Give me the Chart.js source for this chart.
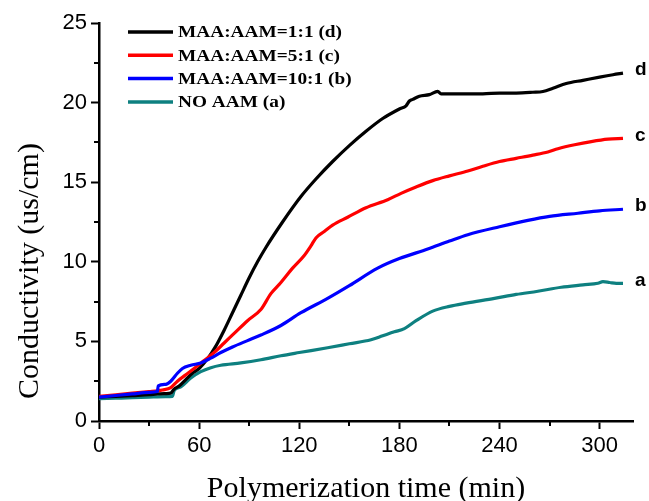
<!DOCTYPE html>
<html>
<head>
<meta charset="utf-8">
<script src="https://cdn.jsdelivr.net/npm/chart.js@4.4.1/dist/chart.umd.min.js"></script>
<style>
  html, body { margin: 0; padding: 0; background: #fff; }
  #c { display: block; }
</style>
</head>
<body>
<canvas id="c" width="649" height="501"></canvas>
<script>
// ---- data ----
const seriesNames = ["MAA:AAM=1:1 (d)", "MAA:AAM=5:1 (c)", "MAA:AAM=10:1 (b)", "NO AAM (a)"];
const endLabels = ["d", "c", "b", "a"];

const timeD = [0,10,20,30,35,40,43,45,48,52,56,60,65,70,75,80,85,90,95,100,110,121,130,140,150,160,170,180,184,186,188,192,198,203,205,210,220,230,240,250,260,266,272,280,290,300,308,314];
const condD = [1.5,1.55,1.6,1.65,1.7,1.72,1.75,2.0,2.2,2.6,3.0,3.3,3.9,4.7,5.7,6.8,7.9,9.0,10.0,10.9,12.5,14.1,15.2,16.3,17.3,18.2,19.0,19.6,19.8,20.1,20.2,20.4,20.5,20.7,20.55,20.55,20.55,20.55,20.6,20.6,20.65,20.7,20.9,21.2,21.4,21.6,21.75,21.85];

const timeC = [0,10,20,30,35,38,43,47,52,57,63,69,75,81,89,97,103,109,116,123,127,130,135,140,149,160,173,181,190,200,210,221,230,240,250,260,269,275,285,295,305,314];
const condC = [1.55,1.65,1.75,1.85,1.9,1.95,2.1,2.5,2.9,3.3,3.8,4.3,4.9,5.5,6.3,7.0,8.0,8.7,9.6,10.4,11.0,11.5,11.9,12.3,12.8,13.4,13.9,14.3,14.7,15.1,15.4,15.7,16.0,16.3,16.5,16.7,16.9,17.1,17.35,17.55,17.7,17.75];

const timeB = [0,10,20,30,35,35.5,40,43,47,50,55,61,67,73,80,89,97,109,121,137,150,167,180,197,210,221,240,257,270,287,300,314];
const condB = [1.5,1.6,1.7,1.8,1.85,2.2,2.3,2.5,3.0,3.3,3.5,3.65,3.95,4.3,4.65,5.05,5.4,6.0,6.8,7.7,8.5,9.6,10.2,10.8,11.3,11.7,12.2,12.6,12.85,13.05,13.2,13.3];

const timeA = [0,10,20,30,40,44,45,49,55,61,67,73,85,97,109,120,137,150,163,170,177,183,190,200,210,220,237,250,263,277,290,299,302,306,310,314];
const condA = [1.4,1.43,1.46,1.5,1.53,1.55,1.9,2.15,2.7,3.1,3.35,3.5,3.65,3.85,4.1,4.3,4.6,4.85,5.1,5.35,5.6,5.8,6.3,6.9,7.2,7.4,7.7,7.95,8.15,8.4,8.55,8.65,8.75,8.7,8.65,8.65];

const xTicks = [0, 60, 120, 180, 240, 300];
const xMinorTicks = [30, 90, 150, 210, 270];
const yTicks = [0, 5, 10, 15, 20, 25];
const yMinorTicks = [2.5, 7.5, 12.5, 17.5, 22.5];

const xTitle = "Polymerization time (min)";
const yTitle = "Conductivity (us/cm)";

// ---- styles ----
const colors = ["#000000", "#ff0000", "#0000ff", "#0e8080"];
const drawOrder = [2, 1, 0, 3];

function pts(t, v) { return t.map((x, i) => ({ x: x, y: v[i] })); }
const seriesData = [pts(timeD, condD), pts(timeC, condC), pts(timeB, condB), pts(timeA, condA)];

const datasets = seriesNames.map((name, i) => ({
  label: name,
  data: seriesData[i],
  borderColor: colors[i],
  backgroundColor: colors[i],
  borderWidth: 3.2,
  pointRadius: 0,
  showLine: true,
  fill: false,
  cubicInterpolationMode: 'monotone',
  order: drawOrder[i]
}));

const decorPlugin = {
  id: 'decor',
  afterDraw(chart) {
    const ctx = chart.ctx;
    const xs = chart.scales.x, ys = chart.scales.y;
    ctx.save();
    // minor ticks
    ctx.strokeStyle = '#000';
    ctx.lineWidth = 2;
    ctx.beginPath();
    xMinorTicks.forEach(v => {
      const px = Math.round(xs.getPixelForValue(v));
      ctx.moveTo(px, ys.bottom); ctx.lineTo(px, ys.bottom + 5);
    });
    yMinorTicks.forEach(v => {
      const py = Math.round(ys.getPixelForValue(v));
      ctx.moveTo(xs.left, py); ctx.lineTo(xs.left - 5, py);
    });
    ctx.stroke();

    // legend (text is drawn slightly wide, like the reference)
    ctx.font = 'bold 17px "Liberation Serif"';
    const targetW = 164;
    const sx = targetW / ctx.measureText(chart.data.datasets[0].label).width;
    chart.data.datasets.forEach((ds, i) => {
      const y = 32 + i * 23.3;
      ctx.strokeStyle = ds.borderColor;
      ctx.lineWidth = 3.5;
      ctx.beginPath();
      ctx.moveTo(128, y); ctx.lineTo(173, y);
      ctx.stroke();
      ctx.save();
      ctx.fillStyle = '#000';
      ctx.textBaseline = 'middle';
      ctx.textAlign = 'left';
      ctx.translate(178, y + 1);
      ctx.scale(sx, 1);
      ctx.fillText(ds.label, 0, 0);
      ctx.restore();
    });

    // end-of-curve labels
    ctx.font = 'bold 19px "Liberation Sans"';
    ctx.fillStyle = '#000';
    ctx.textBaseline = 'middle';
    ctx.textAlign = 'left';
    chart.data.datasets.forEach((ds, i) => {
      const meta = chart.getDatasetMeta(i);
      const last = meta.data[meta.data.length - 1];
      ctx.fillText(endLabels[i], last.x + 12, last.y - 3);
    });

    // axis titles
    ctx.font = '30px "Liberation Serif"';
    ctx.textAlign = 'center';
    ctx.textBaseline = 'alphabetic';
    ctx.fillText(xTitle, (xs.left + xs.right) / 2, 497);
    ctx.translate(38, 271);
    ctx.rotate(-Math.PI / 2);
    ctx.fillText(yTitle, 0, 0);
    ctx.restore();
  }
};

const tickFont = { family: '"Liberation Sans"', size: 22 };

new Chart(document.getElementById('c'), {
  type: 'scatter',
  data: { datasets: datasets },
  options: {
    responsive: false,
    animation: false,
    events: [],
    layout: { padding: { left: 0, top: 23, right: 16, bottom: 0 } },
    plugins: { legend: { display: false }, tooltip: { enabled: false }, title: { display: false } },
    scales: {
      x: {
        type: 'linear', min: 0, max: 320,
        afterBuildTicks: s => { s.ticks = xTicks.map(v => ({ value: v })); },
        afterFit: s => { s.height = 80; },
        grid: { drawOnChartArea: false, drawTicks: true, tickLength: 8, tickWidth: 2, tickColor: '#000' },
        border: { display: true, color: '#000', width: 2.5 },
        ticks: { color: '#000', font: tickFont, padding: 4, maxRotation: 0 }
      },
      y: {
        type: 'linear', min: 0, max: 25,
        afterBuildTicks: s => { s.ticks = yTicks.map(v => ({ value: v })); },
        afterFit: s => { s.width = 99; },
        grid: { drawOnChartArea: false, drawTicks: true, tickLength: 8, tickWidth: 2, tickColor: '#000' },
        border: { display: true, color: '#000', width: 2.5 },
        ticks: { color: '#000', font: tickFont, padding: 4 }
      }
    }
  },
  plugins: [decorPlugin]
});
</script>
</body>
</html>
